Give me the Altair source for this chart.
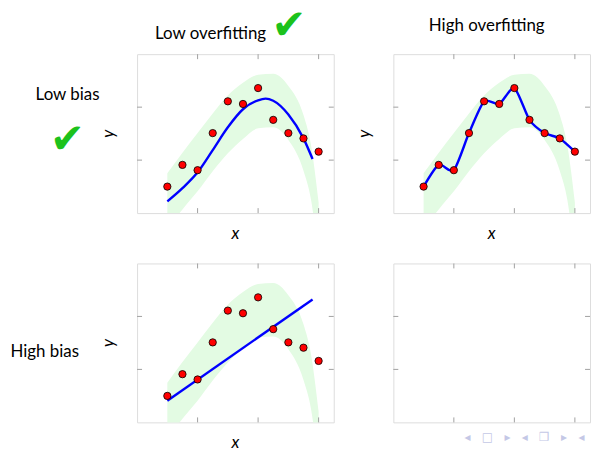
import altair as alt
import pandas as pd

# ---- data ----
point_x = [1, 1.5, 2, 2.5, 3, 3.5, 4, 4.5, 5, 5.5, 6]
point_y = [0.50, 0.91, 0.81, 1.51, 2.11, 2.06, 2.36, 1.76, 1.51, 1.41, 1.16]

band_x = [1, 1.5, 2, 2.5, 3, 3.5, 4, 4.5, 5, 5.5, 5.75, 6]
band_hi = [0.75, 1.14, 1.51, 1.88, 2.22, 2.46, 2.61, 2.63, 2.40, 1.85, 1.28, 0.20]
band_lo = [-0.30, 0.07, 0.41, 0.79, 1.13, 1.40, 1.60, 1.62, 1.38, 0.80, 0.25, -0.85]

fit_x = [1, 1.5, 2, 2.5, 3, 3.5, 4, 4.25, 4.5, 5, 5.5, 5.8]
fit_y = [0.22, 0.47, 0.77, 1.19, 1.62, 1.96, 2.13, 2.16, 2.12, 1.86, 1.41, 1.02]

lin_x = [1, 5.8]
lin_y = [0.41, 2.32]

x_ticks = [2, 4, 6]
y_ticks = [1, 2]

col_titles = ["Low overfitting", "High overfitting"]
row_titles = ["Low bias", "High bias"]
check = "\u2714"
nav_symbols = ["\u25C2", "\u25A1", "\u25B8", "\u25C2", "\u2750", "\u25B8", "\u25C2"]
nav_text = ("\u00A0" * 3).join(nav_symbols)

# ---- layout / style ----
W, H = 198, 160
XDOM = [0, 6.5]
YDOM = [0, 3]
FONT = "Lato"
FS = 17
GREEN = "#1cc21c"


def xs(field):
    return alt.X(field, type="quantitative",
                 scale=alt.Scale(domain=XDOM, nice=False, zero=False), axis=None)


def ys(field):
    return alt.Y(field, type="quantitative",
                 scale=alt.Scale(domain=YDOM, nice=False, zero=False), axis=None)


def txt(s, x, y, **kw):
    style = dict(font=FONT, fontSize=FS, color="black", baseline="alphabetic", align="center")
    style.update(kw)
    return alt.Chart(pd.DataFrame({"t": [s]})).mark_text(**style).encode(
        x=alt.value(x), y=alt.value(y), text="t:N")


def tick_layers():
    xt = pd.DataFrame({"v": x_ticks})
    yt = pd.DataFrame({"v": y_ticks})
    st = dict(color="#a0a0a0", strokeWidth=1)
    return [
        alt.Chart(xt).mark_rule(**st).encode(x=xs("v"), y=alt.value(0), y2=alt.value(5)),
        alt.Chart(xt).mark_rule(**st).encode(x=xs("v"), y=alt.value(H - 5), y2=alt.value(H)),
        alt.Chart(yt).mark_rule(**st).encode(y=ys("v"), x=alt.value(0), x2=alt.value(5)),
        alt.Chart(yt).mark_rule(**st).encode(y=ys("v"), x=alt.value(W - 5), x2=alt.value(W)),
    ]


pts = pd.DataFrame({"x": point_x, "y": point_y})
band = pd.DataFrame({"x": band_x, "lo": band_lo, "hi": band_hi})
fit = pd.DataFrame({"x": fit_x, "y": fit_y})
lin = pd.DataFrame({"x": lin_x, "y": lin_y})


def band_layer():
    return alt.Chart(band).mark_area(color="#e3fbe3", interpolate="monotone", clip=True).encode(
        x=xs("x"), y=ys("lo"), y2=alt.Y2("hi"))


def pts_layer():
    return alt.Chart(pts).mark_circle(size=54, color="#ff0000", stroke="black",
                                      strokeWidth=0.8, opacity=1).encode(x=xs("x"), y=ys("y"))


def line_layer(df, interp, **kw):
    return alt.Chart(df).mark_line(color="#0000ff", strokeWidth=2.4, interpolate=interp, **kw).encode(
        x=xs("x"), y=ys("y"))


def axis_labels():
    return [
        txt("x", W / 2, H + 26, fontStyle="italic"),
        txt("y", -23, H / 2, angle=270, fontStyle="italic"),
    ]


anchor = alt.Chart(pd.DataFrame({"a": [0]})).mark_rect(opacity=0).encode(
    x=alt.value(-137), x2=alt.value(-130), y=alt.value(-52), y2=alt.value(-45))

# top-left: low bias, low overfitting
p1 = alt.layer(
    anchor,
    band_layer(),
    *tick_layers(),
    line_layer(fit, "monotone"),
    pts_layer(),
    *axis_labels(),
    txt(col_titles[0], 74, -15),
    txt(check, 153, -15, font="DejaVu Sans", fontSize=42, color=GREEN),
    txt(row_titles[0], -70, 46),
    txt(check, -70, 100, font="DejaVu Sans", fontSize=42, color=GREEN),
).properties(width=W, height=H)

# top-right: low bias, high overfitting
p2 = alt.layer(
    band_layer(),
    *tick_layers(),
    line_layer(pts, "cardinal", tension=0.3),
    pts_layer(),
    *axis_labels(),
    txt(col_titles[1], 94, -23),
).properties(width=W, height=H)

# bottom-left: high bias, low overfitting
p3 = alt.layer(
    band_layer(),
    *tick_layers(),
    line_layer(lin, "linear"),
    pts_layer(),
    *axis_labels(),
    txt(row_titles[1], -93, 94),
).properties(width=W, height=H)

# bottom-right: empty frame
p4 = alt.layer(
    *tick_layers(),
    txt(nav_text, 132, 179, font="DejaVu Sans", fontSize=12, color="#c4c8e6"),
).properties(width=W, height=H)

chart = alt.concat(
    p1, p2, p3, p4, columns=2,
    spacing=alt.RowColnumber(row=50.7, column=60),
    bounds="flush",
    padding=0,
).configure_view(stroke="#2a2a2a", strokeWidth=1).configure(background="white")

chart.save("out.html", embed_options={"renderer": "svg", "actions": False})
